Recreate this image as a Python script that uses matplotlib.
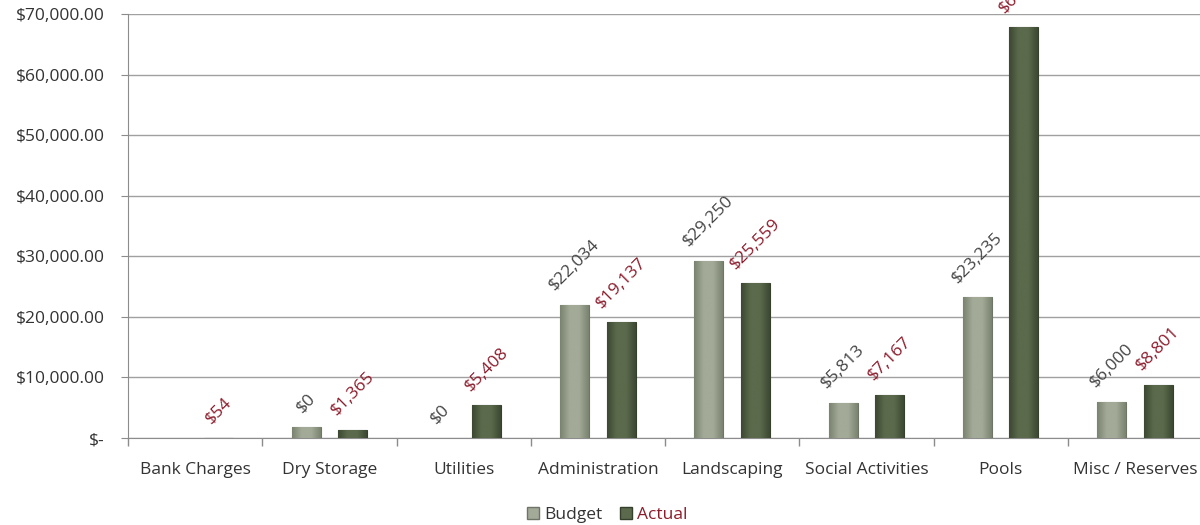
import numpy as np
import matplotlib
matplotlib.use("Agg")
import matplotlib.pyplot as plt
from matplotlib.patches import Patch
from matplotlib.ticker import FuncFormatter

categories = ["Bank Charges", "Dry Storage", "Utilities", "Administration",
              "Landscaping", "Social Activities", "Pools", "Misc / Reserves"]
budget = [0, 1850, 0, 22034, 29250, 5813, 23235, 6000]
actual = [54, 1365, 5408, 19137, 25559, 7167, 67810, 8801]
budget_labels = ["", "$0", "$0", "$22,034", "$29,250", "$5,813", "$23,235", "$6,000"]
actual_labels = ["$54", "$1,365", "$5,408", "$19,137", "$25,559", "$7,167", "$67,810", "$8,801"]
yticks = [0, 10000, 20000, 30000, 40000, 50000, 60000, 70000]

plt.rcParams['font.family'] = ['Open Sans', 'DejaVu Sans']
FS = 12.5

fig = plt.figure(figsize=(12, 5.25), dpi=100)
ax = fig.add_axes([128/1200, 87/525, 1074/1200, 424/525])

x = np.arange(len(categories))
w = 0.216
off = 0.174

def grad_bars(xs, hs, c_center, c_edge, edge):
    lws = [0.8 if h > 0 else 0 for h in hs]
    bars = ax.bar(xs, hs, width=w, color=c_center, edgecolor=edge, linewidth=lws, zorder=3)
    cmap = matplotlib.colors.LinearSegmentedColormap.from_list(
        "g", [c_edge, c_center, c_center, c_edge])
    grad = np.linspace(0, 1, 64).reshape(1, -1)
    for b in bars:
        h = b.get_height()
        if h <= 0:
            continue
        x0 = b.get_x()
        im = ax.imshow(grad, cmap=cmap, aspect='auto', zorder=3.5,
                       extent=[x0, x0 + b.get_width(), 0, h], interpolation='bicubic')
        im.set_clip_path(b)
    return bars

bb = grad_bars(x - off, budget, '#a3aa98', '#7a8270', '#6e7566')
ba = grad_bars(x + off, actual, '#5b6a4c', '#3c4832', '#34402b')

for xi, h, lab in zip(x - off, budget, budget_labels):
    if lab:
        ax.annotate(lab, (xi, h), xytext=(0, 8), textcoords='offset points',
                    ha='center', va='bottom', rotation=45, fontsize=FS,
                    color='#454545', zorder=5, annotation_clip=False)
for xi, h, lab in zip(x + off, actual, actual_labels):
    ax.annotate(lab, (xi, h), xytext=(0, 8), textcoords='offset points',
                ha='center', va='bottom', rotation=45, fontsize=FS,
                color='#8c1c2c', zorder=5, annotation_clip=False)

ax.set_xlim(-0.5, len(categories) - 0.5)
ax.set_ylim(0, 70000)
ax.set_yticks(yticks)
ax.yaxis.set_major_formatter(FuncFormatter(lambda v, p: "$-" if v == 0 else f"${v:,.2f}"))
ax.set_xticks(x)
ax.set_xticklabels(categories)
ax.set_xticks(np.arange(-0.5, len(categories), 1), minor=True)
ax.tick_params(axis='x', which='major', length=0, pad=17, labelsize=FS, labelcolor='#333333')
ax.tick_params(axis='x', which='minor', length=6, color='#8c8c8c', width=1)
ax.tick_params(axis='y', length=5, color='#8c8c8c', labelsize=FS, labelcolor='#333333', pad=12)
ax.grid(axis='y', color='#a0a0a0', linewidth=1, zorder=0)
ax.set_axisbelow(True)
for s in ['top', 'right']:
    ax.spines[s].set_visible(False)
for s in ['left', 'bottom']:
    ax.spines[s].set_color('#8c8c8c')

handles = [Patch(facecolor='#a3aa98', edgecolor='#6e7566', label='Budget'),
           Patch(facecolor='#5b6a4c', edgecolor='#34402b', label='Actual')]
leg = fig.legend(handles=handles, loc='center', bbox_to_anchor=(607/1200, 1 - 515/525),
                 ncol=2, frameon=False, fontsize=FS, handlelength=0.7, handleheight=0.7,
                 handletextpad=0.3, columnspacing=1.0)
for t, c in zip(leg.get_texts(), ['#333333', '#8c1c2c']):
    t.set_color(c)

fig.savefig("out.png", dpi=100)
